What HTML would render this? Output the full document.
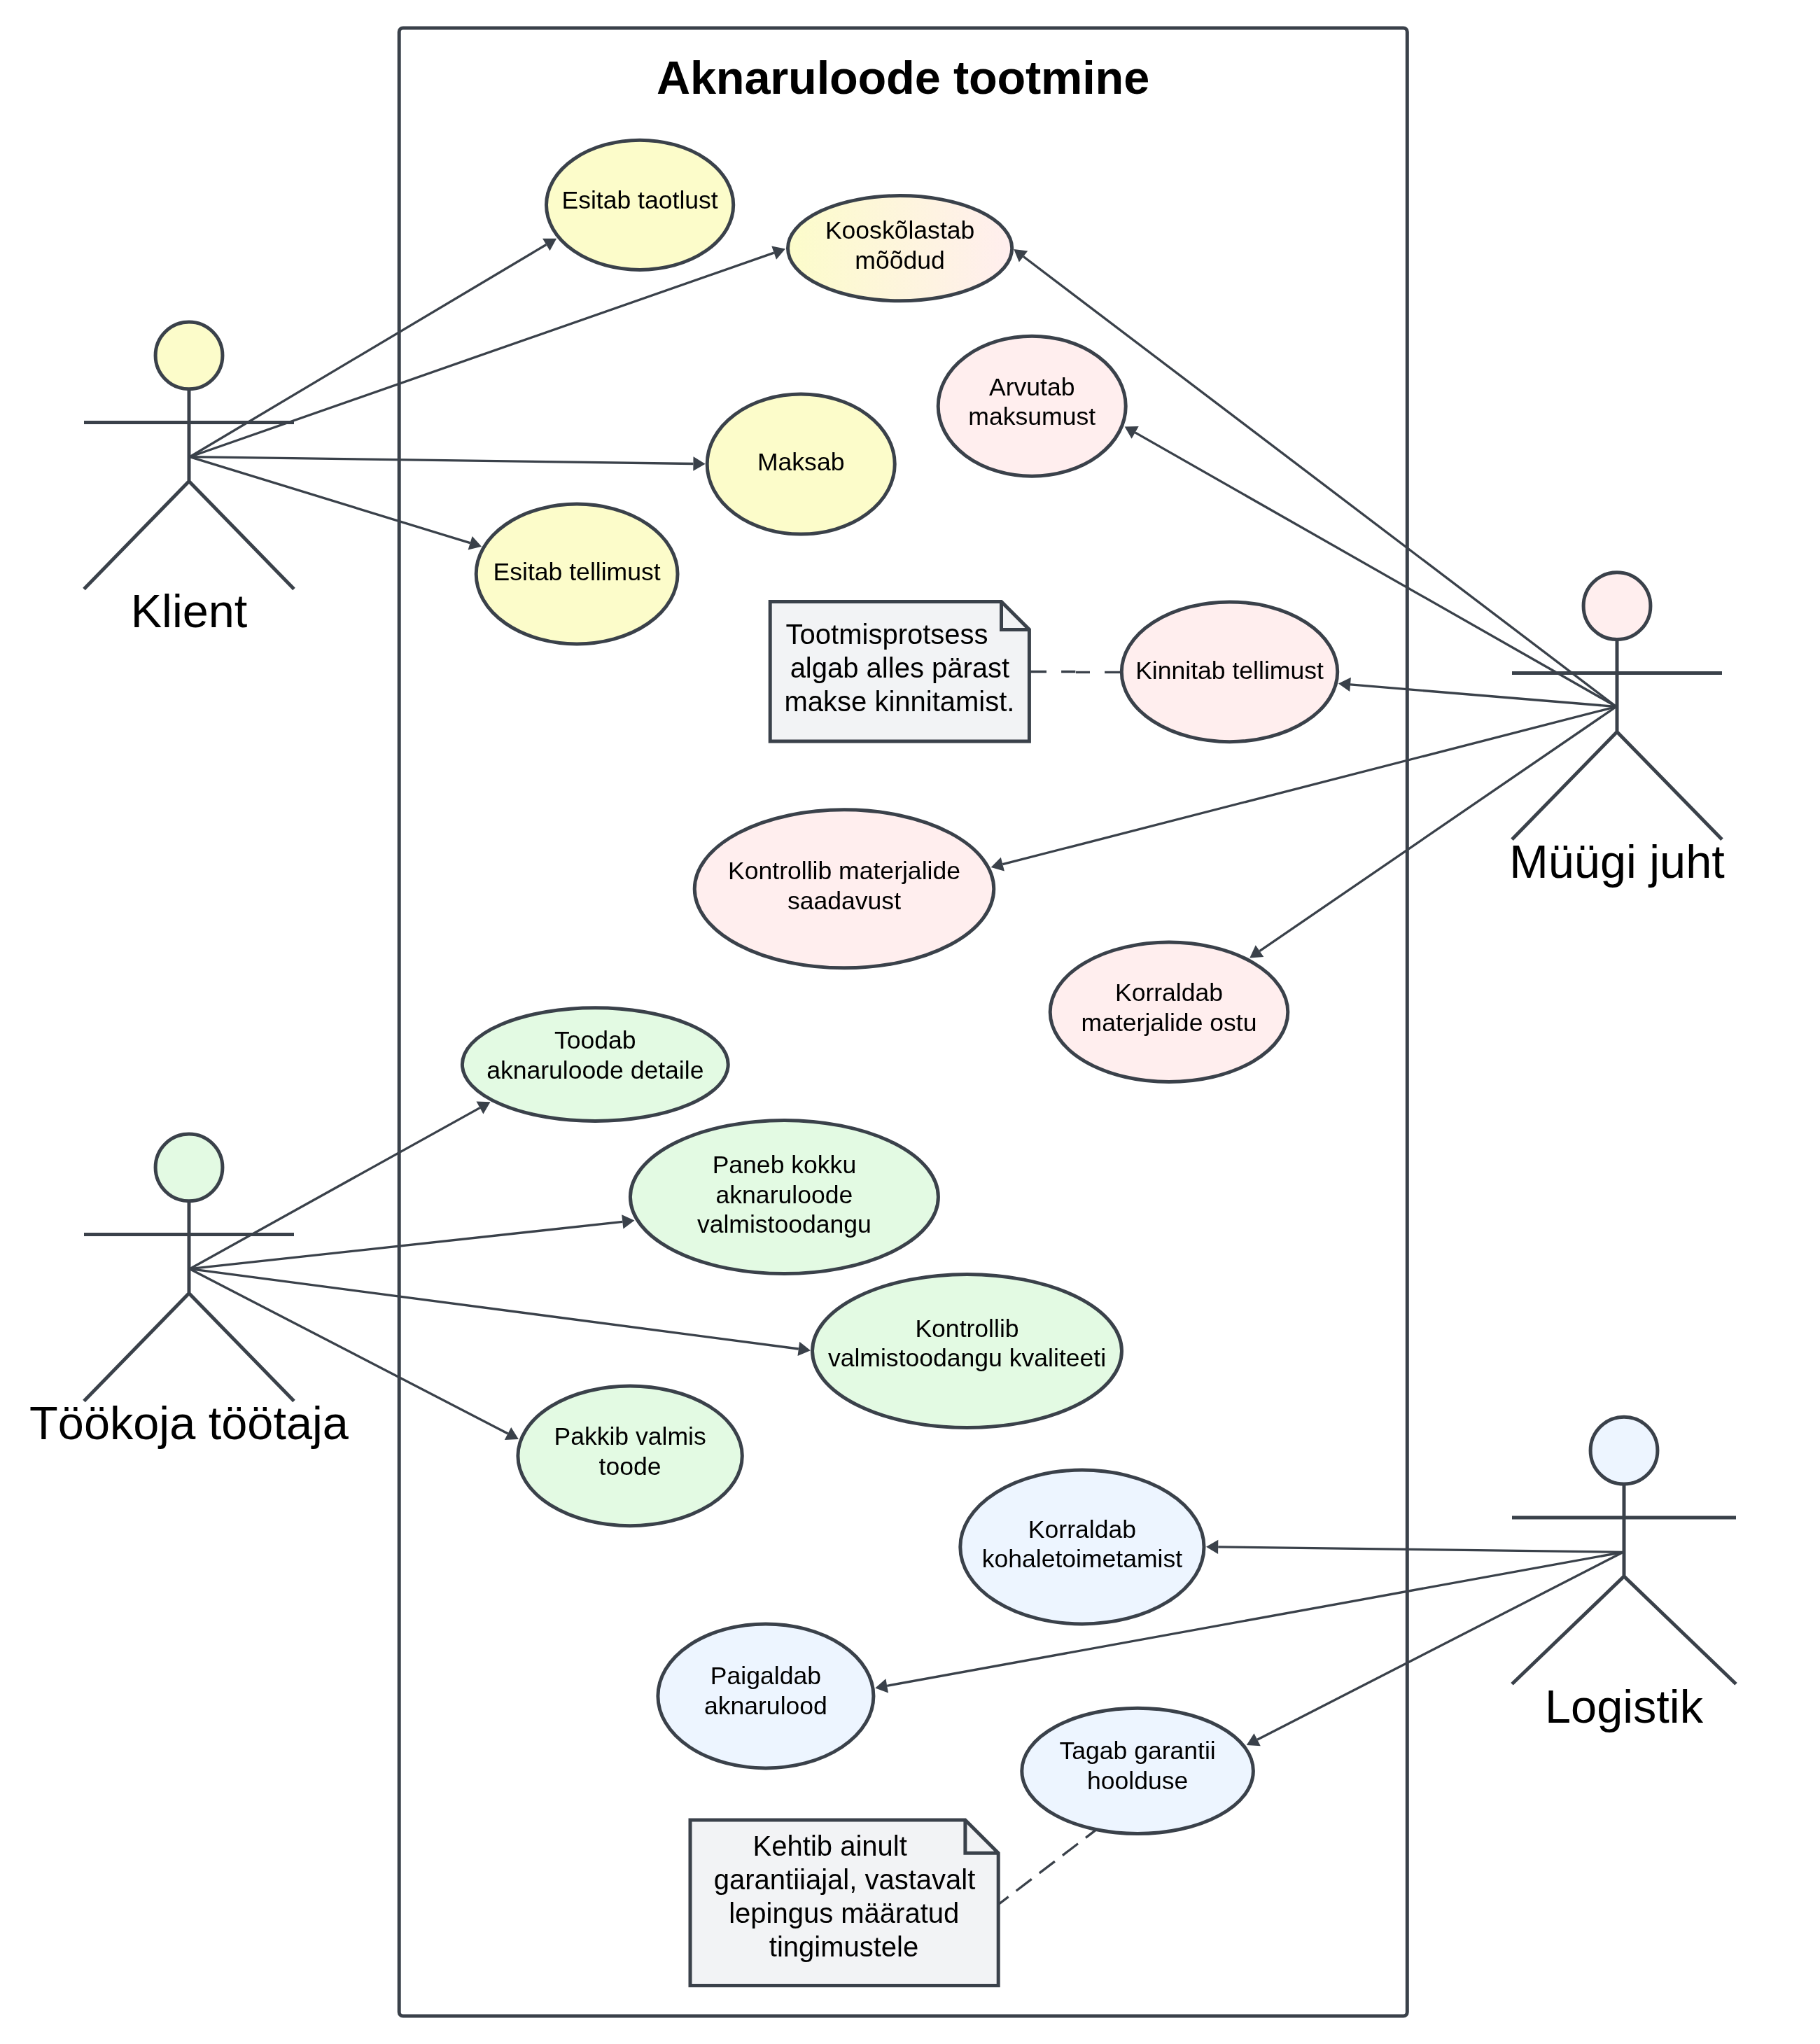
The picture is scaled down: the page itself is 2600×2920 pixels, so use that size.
<!DOCTYPE html>
<html><head><meta charset="utf-8"><title>Aknaruloode tootmine</title>
<style>
html,body{margin:0;padding:0;background:#fff}
svg{display:block;will-change:transform}
text{font-family:"Liberation Sans",sans-serif;fill:#000}
.u{font-size:35.556px;text-anchor:middle}
.n{font-size:40px;text-anchor:middle}
.a{font-size:66.667px;text-anchor:middle}
.t{font-size:66.667px;font-weight:bold;text-anchor:middle;letter-spacing:-0.16px}
.s{stroke:#3a414a;stroke-width:5;}
.l{stroke:#3a414a;stroke-width:3.333;fill:none}
</style></head><body>
<svg width="2600" height="2920" viewBox="0 0 2600 2920">
<defs><linearGradient id="g" x1="0" y1="0" x2="1" y2="0"><stop offset="0" stop-color="#fcfcca"/><stop offset="1" stop-color="#ffeeee"/></linearGradient></defs>
<rect width="2600" height="2920" fill="#fff"/>
<rect x="570.2" y="40" width="1440.1" height="2840" rx="5.5" ry="5.5" fill="#fff" class="s"/>
<text class="t" x="1290" y="134">Aknaruloode tootmine</text>
<path class="l" d="M1470.4 959.5H1495M1516.1 959.5H1536.3M1536.9 960.4H1557M1578.1 960.4H1602"/>
<path class="l" stroke-dasharray="27.78 13.89" stroke-dashoffset="9.6" d="M1426.2 2720.7L1566 2613.9"/>
<ellipse cx="914.1" cy="292.8" rx="133.6" ry="92.6" fill="#fcfcca" class="s"/>
<text class="u" x="914.1" y="297.7">Esitab taotlust</text>
<ellipse cx="1285.6" cy="354.7" rx="160.1" ry="75.1" fill="url(#g)" class="s"/>
<text class="u" x="1285.6" y="340.9">Kooskõlastab</text>
<text class="u" x="1285.6" y="383.6">mõõdud</text>
<ellipse cx="1474.2" cy="580.2" rx="134" ry="100" fill="#ffeeee" class="s"/>
<text class="u" x="1474.2" y="564.6">Arvutab</text>
<text class="u" x="1474.2" y="607.3">maksumust</text>
<ellipse cx="1144.2" cy="663.1" rx="134" ry="100" fill="#fcfcca" class="s"/>
<text class="u" x="1144.2" y="672.3">Maksab</text>
<ellipse cx="824.1" cy="820" rx="143.9" ry="99.9" fill="#fcfcca" class="s"/>
<text class="u" x="824.1" y="828.9">Esitab tellimust</text>
<ellipse cx="1756.5" cy="959.8" rx="154.2" ry="99.9" fill="#ffeeee" class="s"/>
<text class="u" x="1756.5" y="969.6">Kinnitab tellimust</text>
<ellipse cx="1206" cy="1269.8" rx="213.75" ry="113" fill="#ffeeee" class="s"/>
<text class="u" x="1206" y="1256.1">Kontrollib materjalide</text>
<text class="u" x="1206" y="1298.8">saadavust</text>
<ellipse cx="1670" cy="1445.8" rx="169.8" ry="99.7" fill="#ffeeee" class="s"/>
<text class="u" x="1670" y="1430.2">Korraldab</text>
<text class="u" x="1670" y="1472.9">materjalide ostu</text>
<ellipse cx="850.3" cy="1520.6" rx="189.9" ry="80.8" fill="#e3fae3" class="s"/>
<text class="u" x="850.3" y="1498.2">Toodab</text>
<text class="u" x="850.3" y="1540.9">aknaruloode detaile</text>
<ellipse cx="1120.4" cy="1710" rx="220" ry="109.6" fill="#e3fae3" class="s"/>
<text class="u" x="1120.4" y="1676.1">Paneb kokku</text>
<text class="u" x="1120.4" y="1718.8">aknaruloode</text>
<text class="u" x="1120.4" y="1761.4">valmistoodangu</text>
<ellipse cx="1381.5" cy="1930" rx="221" ry="109.6" fill="#e3fae3" class="s"/>
<text class="u" x="1381.5" y="1909.5">Kontrollib</text>
<text class="u" x="1381.5" y="1952.2">valmistoodangu kvaliteeti</text>
<ellipse cx="900.1" cy="2079.8" rx="160.2" ry="99.85" fill="#e3fae3" class="s"/>
<text class="u" x="900.1" y="2064.2">Pakkib valmis</text>
<text class="u" x="900.1" y="2106.9">toode</text>
<ellipse cx="1545.9" cy="2210" rx="174.1" ry="109.9" fill="#edf5ff" class="s"/>
<text class="u" x="1545.9" y="2196.6">Korraldab</text>
<text class="u" x="1545.9" y="2239.3">kohaletoimetamist</text>
<ellipse cx="1093.9" cy="2422.9" rx="154" ry="103" fill="#edf5ff" class="s"/>
<text class="u" x="1093.9" y="2405.8">Paigaldab</text>
<text class="u" x="1093.9" y="2448.5">aknarulood</text>
<ellipse cx="1625.1" cy="2529.9" rx="165.3" ry="89.7" fill="#edf5ff" class="s"/>
<text class="u" x="1625.1" y="2513.2">Tagab garantii</text>
<text class="u" x="1625.1" y="2555.9">hoolduse</text>
<path class="s" fill="#f2f3f5" stroke-linejoin="miter" d="M1100.2 859.5H1430.5L1470.4 899.4V1059.1H1100.2Z"/>
<path class="s" fill="none" stroke-linejoin="miter" d="M1430.5 859.5V899.4H1470.4"/>
<text class="n" x="1267.1" y="920">Tootmisprotsess</text>
<text class="n" x="1285.4" y="968">algab alles pärast</text>
<text class="n" x="1285" y="1016">makse kinnitamist.</text>
<path class="s" fill="#f2f3f5" stroke-linejoin="miter" d="M986 2599.9H1378.9L1426.2 2647.2V2836.4H986Z"/>
<path class="s" fill="none" stroke-linejoin="miter" d="M1378.9 2599.9V2647.2H1426.2"/>
<text class="n" x="1185.7" y="2651">Kehtib ainult</text>
<text class="n" x="1206.5" y="2699">garantiiajal, vastavalt</text>
<text class="n" x="1205.7" y="2747">lepingus määratud</text>
<text class="n" x="1205.5" y="2795">tingimustele</text>
<g class="s" fill="none">
<circle cx="270" cy="507.8" r="47.9" fill="#fcfcca"/>
<path d="M270 555.7V688.4 M120.0 603.6H420.0 M270 687.5L120.0 841.4 M270 687.5L420.0 841.4"/>
</g>
<text class="a" x="270" y="896.1">Klient</text>
<g class="s" fill="none">
<circle cx="2310" cy="865.7" r="47.9" fill="#ffeeee"/>
<path d="M2310 913.6V1046.3 M2160.0 961.5H2460.0 M2310 1045.4L2160.0 1199.3 M2310 1045.4L2460.0 1199.3"/>
</g>
<text class="a" x="2310" y="1254.0">Müügi juht</text>
<g class="s" fill="none">
<circle cx="270" cy="1667.8" r="47.9" fill="#e3fae3"/>
<path d="M270 1715.7V1848.4 M120.0 1763.6H420.0 M270 1847.5L120.0 2001.4 M270 1847.5L420.0 2001.4"/>
</g>
<text class="a" x="270" y="2056.1">Töökoja töötaja</text>
<g class="s" fill="none">
<circle cx="2320" cy="2072.2" r="47.9" fill="#edf5ff"/>
<path d="M2320 2120.1V2252.8 M2160.0 2168.0H2480.0 M2320 2251.9L2160.0 2405.8 M2320 2251.9L2480.0 2405.8"/>
</g>
<text class="a" x="2320" y="2460.5">Logistik</text>
<path class="l" d="M271 652.7L780.3 349.5"/>
<path fill="#3a414a" d="M795.1 340.7L785.5 358.3L775.1 340.7Z"/>
<path class="l" d="M271 652.7L1105.7 361.1"/>
<path fill="#3a414a" d="M1121.9 355.4L1109.0 370.7L1102.3 351.4Z"/>
<path class="l" d="M271 652.7L990.4 662.5"/>
<path fill="#3a414a" d="M1007.6 662.7L990.3 672.7L990.5 652.3Z"/>
<path class="l" d="M271 652.7L671.6 775.7"/>
<path fill="#3a414a" d="M688.0 780.7L668.6 785.4L674.6 765.9Z"/>
<path class="l" d="M2309 1009.5L1462.0 366.5"/>
<path fill="#3a414a" d="M1448.3 356.1L1468.2 358.4L1455.8 374.6Z"/>
<path class="l" d="M2309 1009.5L1621.6 617.9"/>
<path fill="#3a414a" d="M1606.7 609.4L1626.7 609.1L1616.6 626.8Z"/>
<path class="l" d="M2309 1009.5L1929.0 977.9"/>
<path fill="#3a414a" d="M1911.9 976.5L1929.9 967.8L1928.2 988.1Z"/>
<path class="l" d="M2309 1009.5L1432.4 1234.7"/>
<path fill="#3a414a" d="M1415.7 1239.0L1429.8 1224.8L1434.9 1244.6Z"/>
<path class="l" d="M2309 1009.5L1799.5 1358.7"/>
<path fill="#3a414a" d="M1785.3 1368.4L1793.7 1350.3L1805.3 1367.1Z"/>
<path class="l" d="M271 1812.7L685.5 1582.6"/>
<path fill="#3a414a" d="M700.5 1574.2L690.4 1591.5L680.5 1573.6Z"/>
<path class="l" d="M271 1812.7L889.3 1745.4"/>
<path fill="#3a414a" d="M906.4 1743.5L890.4 1755.5L888.2 1735.2Z"/>
<path class="l" d="M271 1812.7L1140.8 1927.0"/>
<path fill="#3a414a" d="M1157.9 1929.2L1139.5 1937.1L1142.2 1916.8Z"/>
<path class="l" d="M271 1812.7L725.5 2048.0"/>
<path fill="#3a414a" d="M740.8 2055.9L720.8 2057.1L730.2 2038.9Z"/>
<path class="l" d="M2319 2217.3L1740.2 2209.9"/>
<path fill="#3a414a" d="M1723.0 2209.7L1740.3 2199.7L1740.1 2220.1Z"/>
<path class="l" d="M2319 2217.3L1267.2 2408.3"/>
<path fill="#3a414a" d="M1250.3 2411.4L1265.4 2398.3L1269.0 2418.4Z"/>
<path class="l" d="M2319 2217.3L1796.1 2485.3"/>
<path fill="#3a414a" d="M1780.8 2493.1L1791.5 2476.2L1800.8 2494.3Z"/>
</svg></body></html>
